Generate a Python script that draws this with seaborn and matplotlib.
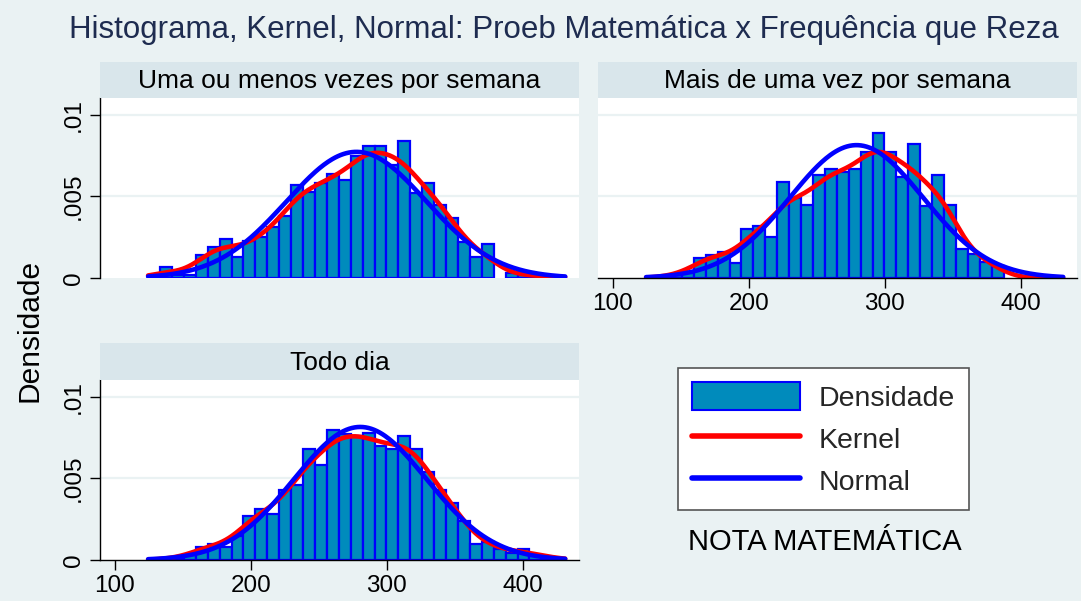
import numpy as np
import pandas as pd
import matplotlib
matplotlib.use("Agg")
import matplotlib.pyplot as plt
from matplotlib.patches import Patch
from matplotlib.lines import Line2D
import seaborn as sns

# --- data ---
# histogram bins, shared by the three groups
bin_start = 124.4
bin_width = 8.77
n_bins = 35

# bar heights (density) per bin, one list per group
dens_semana = [0.0001, 0.0007, 0.0002, 0.0002, 0.0014, 0.0019, 0.0024, 0.0013, 0.0023, 0.0025,
               0.0031, 0.0038, 0.0057, 0.0053, 0.0058, 0.0064, 0.0060, 0.0075, 0.0081, 0.0081,
               0.0069, 0.0084, 0.0052, 0.0058, 0.0045, 0.0037, 0.0022, 0.0013, 0.0021, 0.0,
               0.0003, 0.0002, 0.0001, 0.0001, 0.0001]
dens_mais = [0.0, 0.0001, 0.0002, 0.0003, 0.0012, 0.0014, 0.0016, 0.0009, 0.0030, 0.0032,
             0.0025, 0.0059, 0.0049, 0.0045, 0.0063, 0.0067, 0.0065, 0.0067, 0.0077, 0.0089,
             0.0077, 0.0062, 0.0082, 0.0044, 0.0063, 0.0045, 0.0018, 0.0015, 0.0010, 0.00075,
             0.0, 0.0, 0.0, 0.0, 0.0]
dens_todo = [0.0, 0.0001, 0.0001, 0.0003, 0.0008, 0.0010, 0.0008, 0.0015, 0.0027, 0.0031,
             0.0028, 0.0043, 0.0046, 0.0068, 0.0058, 0.0080, 0.0077, 0.0076, 0.0078, 0.0070,
             0.0068, 0.0076, 0.0068, 0.0054, 0.0043, 0.0035, 0.0024, 0.0010, 0.0011, 0.0007,
             0.0004, 0.0007, 0.0003, 0.0002, 0.0001]

panel_titles = ["Uma ou menos vezes por semana", "Mais de uma vez por semana", "Todo dia"]
legend_labels = ["Densidade", "Kernel", "Normal"]
x_ticks = [100, 200, 300, 400]
y_ticks = [0, 0.005, 0.01]
y_tick_labels = ["0", ".005", ".01"]

# --- style ---
sns.set_style("white")
plt.rcParams["font.family"] = ["Liberation Sans", "DejaVu Sans"]

bg = "#EAF2F3"
strip_bg = "#D9E6EB"
bar_fill = "#008BBC"

edges = bin_start + bin_width * np.arange(n_bins + 1)
centers = edges[:-1] + bin_width / 2

W, H = 1081, 601


def box(x0, y0, x1, y1):
    # pixel box -> figure fraction
    return [x0 / W, 1 - y1 / H, (x1 - x0) / W, (y1 - y0) / H]


fig = plt.figure(figsize=(10.81, 6.01), dpi=100, facecolor=bg)

panels = [
    (dens_semana, box(100, 98, 579, 278), box(100, 62, 579, 98), True, False),
    (dens_mais, box(598, 98, 1077, 278), box(598, 62, 1077, 98), False, True),
    (dens_todo, box(100, 380, 579, 560), box(100, 343, 579, 380), True, True),
]

for (dens, rect, strip_rect, show_y, show_x), title in zip(panels, panel_titles):
    ax = fig.add_axes(rect)
    ax.set_facecolor("white")
    df = pd.DataFrame({"nota": centers, "dens": dens})

    for yv in y_ticks[1:]:
        ax.axhline(yv, color=bg, lw=1.6, zorder=0.5)

    sns.histplot(data=df, x="nota", weights="dens", bins=list(edges), stat="count",
                 color=bar_fill, edgecolor="blue", linewidth=1.6, alpha=1, ax=ax)
    for p in ax.patches:
        if p.get_height() <= 0:
            p.set_visible(False)

    # kernel curve from the binned data
    sns.kdeplot(data=df, x="nota", weights="dens", bw_adjust=0.42,
                clip=(edges[0], edges[-1]), cut=10, gridsize=400,
                color="red", lw=3.3, ax=ax)

    # normal curve fitted to the binned data (mean / sd of the histogram)
    mu = np.average(centers, weights=dens)
    sd = np.sqrt(np.average((centers - mu) ** 2, weights=dens))
    grid = np.linspace(edges[0], edges[-1], 300)
    norm_y = np.exp(-0.5 * ((grid - mu) / sd) ** 2) / (sd * np.sqrt(2 * np.pi))
    sns.lineplot(x=grid, y=norm_y, color="blue", lw=3.3, ax=ax)

    ax.set_xlim(89, 441.5)
    ax.set_ylim(0, 0.01104)
    ax.set_xlabel("")
    ax.set_ylabel("")
    for s in ax.spines.values():
        s.set_visible(False)

    ax.set_yticks(y_ticks)
    if show_y:
        ax.spines["left"].set_visible(True)
        ax.spines["left"].set_color("black")
        ax.spines["left"].set_linewidth(1)
        ax.set_yticklabels(y_tick_labels, rotation=90, va="center")
        ax.tick_params(axis="y", left=True, length=7, width=1, direction="out",
                       labelsize=17.5, pad=4, colors="black")
    else:
        ax.tick_params(axis="y", left=False, labelleft=False)

    ax.set_xticks(x_ticks)
    if show_x:
        ax.spines["bottom"].set_visible(True)
        ax.spines["bottom"].set_color("black")
        ax.spines["bottom"].set_linewidth(1)
        ax.tick_params(axis="x", bottom=True, length=7, width=1, direction="out",
                       labelsize=17.5, pad=4, colors="black")
    else:
        ax.tick_params(axis="x", bottom=False, labelbottom=False)

    sa = fig.add_axes(strip_rect)
    sa.set_facecolor(strip_bg)
    sa.set_xticks([])
    sa.set_yticks([])
    for s in sa.spines.values():
        s.set_visible(False)
    sa.text(0.5, 0.47, title, ha="center", va="center", fontsize=19, color="black",
            transform=sa.transAxes)

# legend in the empty fourth cell
handles = [
    Patch(facecolor=bar_fill, edgecolor="blue", linewidth=1.5),
    Line2D([], [], color="red", lw=4, solid_capstyle="round"),
    Line2D([], [], color="blue", lw=4, solid_capstyle="round"),
]
leg = fig.legend(handles, legend_labels, loc="upper left",
                 bbox_to_anchor=(678 / W, 1 - 368 / H), bbox_transform=fig.transFigure,
                 borderaxespad=0, fontsize=20.5, handlelength=3.8, handleheight=1.1,
                 handletextpad=0.63, labelspacing=0.45, borderpad=0.5,
                 frameon=True, fancybox=False, edgecolor="#555555", framealpha=1)
leg.get_frame().set_linewidth(1.2)

fig.text(825 / W, 1 - 542 / H, "NOTA MATEMÁTICA", ha="center", va="center",
         fontsize=21, color="black")
fig.text(30 / W, 1 - 330 / H, "Densidade", rotation=90, ha="center", va="center",
         fontsize=21.5, color="black")
fig.text(564 / W, 1 - 30 / H,
         "Histograma, Kernel, Normal: Proeb Matemática x Frequência que Reza",
         ha="center", va="center", fontsize=22.5, color="#1E2C50")

fig.savefig("out.png", dpi=100, facecolor=bg)
